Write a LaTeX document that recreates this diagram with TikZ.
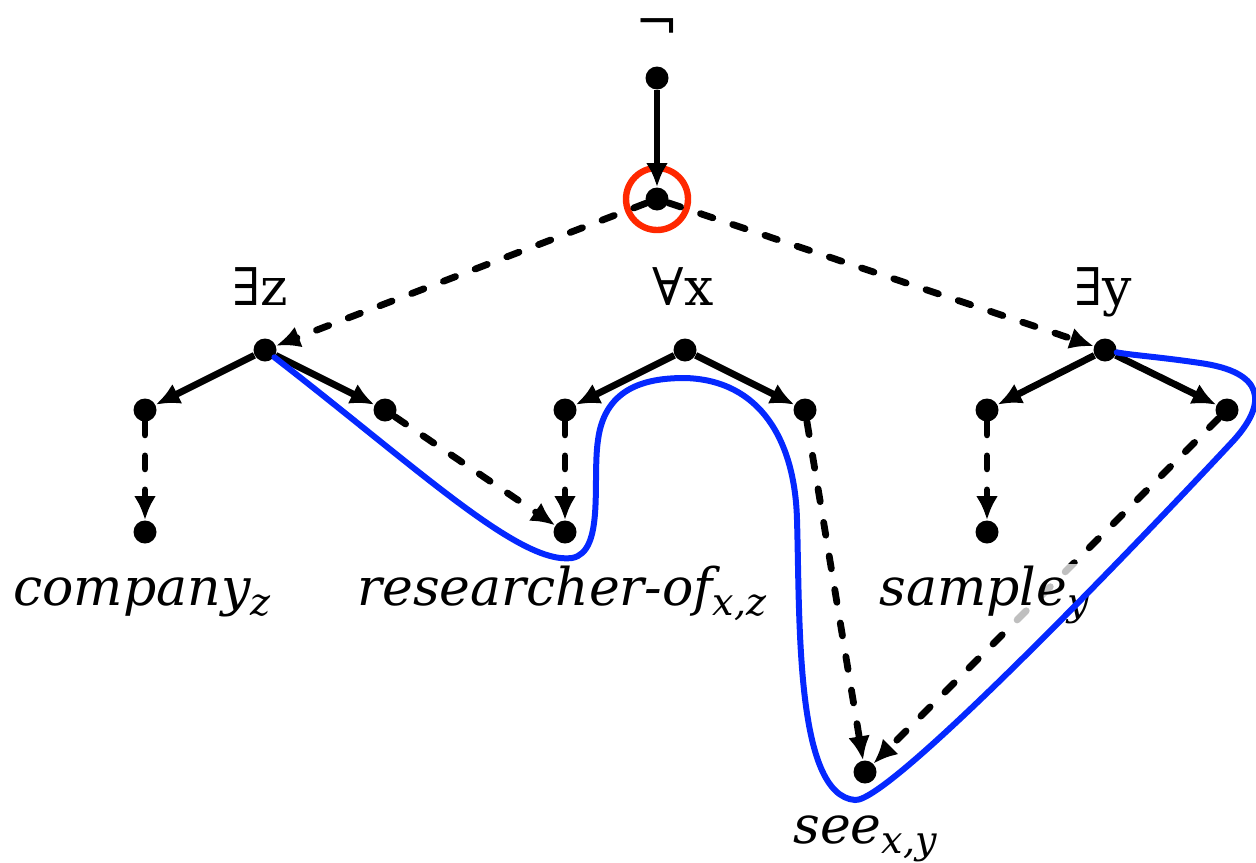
\documentclass[tikz,border=0pt]{standalone}
\usepackage{fontspec}
\setmainfont{DejaVu Serif}
\usepackage{tikz}
\usetikzlibrary{arrows.meta, positioning, calc}

\definecolor{ringred}{RGB}{255,40,0}
\definecolor{curveblue}{RGB}{5,40,255}
\newcommand{\lsub}[1]{\raisebox{-5pt}{\fontsize{19}{22}\selectfont\itshape #1}}

\begin{document}
\begin{tikzpicture}[x=0.5pt, y=-0.5pt,
  dot/.style={circle, fill=black, inner sep=0pt, minimum size=11.5pt},
  solidarrow/.style={line width=3.4pt, -{Latex[length=12pt,width=11pt]}},
  dasharrow/.style={line width=3.4pt, dash pattern=on 6.5pt off 10.5pt, line cap=round, -{Latex[length=12pt,width=11pt]}},
  quant/.style={font=\fontsize{26}{30}\selectfont, inner sep=1pt, anchor=base},
  leaf/.style={font=\fontsize{26}{30}\selectfont\itshape, inner sep=1pt, anchor=base,
    fill=white, fill opacity=0.75, text opacity=1}]
  \useasboundingbox (0,0) rectangle (1256,862);

  % Top of the tree
  \node[quant, anchor=center, inner sep=0pt] (neglbl) at (657,30) {¬};
  \node[dot] (top) at (657,78) {};
  \node[dot] (mid) at (657,199) {};
  \node[draw=ringred, line width=3.2pt, circle, minimum size=31pt, inner sep=0pt] (ring) at (mid) {};

  % Quantifier nodes
  \node[dot] (exz) at (265,350) {};
  \node[dot] (allx) at (685,350) {};
  \node[dot] (exy) at (1105,350) {};
  \node[quant] (exzlbl) at (260,305) {∃z};
  \node[quant] (allxlbl) at (683,305) {∀x};
  \node[quant] (exylbl) at (1103,305) {∃y};

  % Second row
  \node[dot] (z1) at (145,410) {};
  \node[dot] (z2) at (385,410) {};
  \node[dot] (x1) at (565,410) {};
  \node[dot] (x2) at (805,410) {};
  \node[dot] (y1) at (987,410) {};
  \node[dot] (y2) at (1227,410) {};

  % Leaves
  \node[dot] (company) at (145,532) {};
  \node[dot] (researcher) at (565,532) {};
  \node[dot] (sample) at (987,532) {};
  \node[dot] (see) at (865,772) {};

  % Solid arrows
  \draw[solidarrow] (top) -- (mid);
  \draw[solidarrow] (exz) -- (z1);
  \draw[solidarrow] (exz) -- (z2);
  \draw[solidarrow] (allx) -- (x1);
  \draw[solidarrow] (allx) -- (x2);
  \draw[solidarrow] (exy) -- (y1);
  \draw[solidarrow] (exy) -- (y2);

  % Dashed arrows
  \draw[dasharrow] (mid) -- (exz);
  \draw[dasharrow] (mid) -- (exy);
  \draw[dasharrow] (z1) -- (company);
  \draw[dasharrow] (z2) -- (researcher);
  \draw[dasharrow] (x1) -- (researcher);
  \draw[dasharrow] (x2) -- (see);
  \draw[dasharrow] (y1) -- (sample);
  \draw[dasharrow] (y2) -- (see);

  % Leaf labels
  \node[leaf] (companylbl) at (142,605) {company\lsub{z}};
  \node[leaf] (researcherlbl) at (562,605) {researcher-of\lsub{x,z}};
  \node[leaf] (samplelbl) at (984,605) {sample\lsub{y}};
  \node[leaf] (seelbl) at (865,843) {see\lsub{x,y}};

  % Blue path
  \draw[curveblue, line width=3pt, line cap=round]
    (exz) .. controls (420,470) and (520,565) .. (572,558)
    .. controls (605,552) and (592,480) .. (598,440)
    .. controls (605,385) and (650,378) .. (685,378)
    .. controls (760,380) and (795,440) .. (797,520)
    .. controls (800,620) and (795,795) .. (855,800)
    .. controls (890,803) and (1150,530) .. (1234,440)
    .. controls (1268,402) and (1264,372) .. (1200,363)
    .. controls (1160,357) and (1130,355) .. (exy);
\end{tikzpicture}
\end{document}
